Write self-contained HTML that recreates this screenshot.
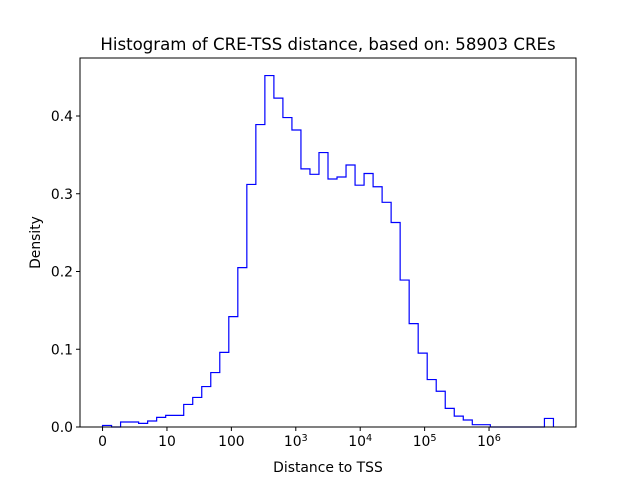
<!DOCTYPE html>
<html><head><meta charset="utf-8"><style>
html,body{margin:0;padding:0;background:#fff}
svg{display:block;font-family:"DejaVu Sans","Liberation Sans",sans-serif}
</style></head><body>
<svg id="chart" width="640" height="480" xmlns="http://www.w3.org/2000/svg">
<rect x="0" y="0" width="640" height="480" fill="#fff"/>
<text x="328" y="50" text-anchor="middle" font-size="16.6">Histogram of CRE-TSS distance, based on: 58903 CREs</text>
<g id="plot"></g>
<rect x="80" y="58" width="496" height="369" fill="none" stroke="#000" stroke-width="1"/>
<text x="328" y="472" text-anchor="middle" font-size="13.9">Distance to TSS</text>
<text x="0" y="0" transform="translate(40,242.5) rotate(-90)" text-anchor="middle" font-size="13.9">Density</text>
</svg>
<script>
const densities = [0.002,0,0.0064,0.0064,0.0047,0.0077,0.0124,0.015,0.015,0.029,0.038,0.052,0.070,0.096,0.142,0.205,0.312,0.389,0.452,0.423,0.398,0.382,0.332,0.325,0.353,0.319,0.3215,0.337,0.311,0.326,0.309,0.289,0.263,0.189,0.133,0.095,0.061,0.046,0.024,0.014,0.009,0.003,0.003,0,0,0,0,0,0,0.011];
const binStart = 0;
const binWidth = 0.14;
const xTickValues = [0,1,2,3,4,5,6];
const xTickLabels = ["0","10","100","10^3","10^4","10^5","10^6"];
const yTickValues = [0,0.1,0.2,0.3,0.4];
const yTickLabels = ["0.0","0.1","0.2","0.3","0.4"];

const L=80,R=576,T=58,B=427;
const xMin=-0.35,xMax=7.35,yMin=0,yMax=0.4746;
const xs=v=>L+(v-xMin)/(xMax-xMin)*(R-L);
const ys=v=>B-(v-yMin)/(yMax-yMin)*(B-T);
const NS="http://www.w3.org/2000/svg";
const g=document.getElementById('plot');
function mk(t,a){const e=document.createElementNS(NS,t);for(const k in a)e.setAttribute(k,a[k]);return e;}

let d="M"+xs(binStart)+","+ys(0);
densities.forEach((v,i)=>{
  const x0=xs(binStart+i*binWidth),x1=xs(binStart+(i+1)*binWidth);
  d+=" L"+x0+","+ys(v)+" L"+x1+","+ys(v);
});
d+=" L"+xs(binStart+densities.length*binWidth)+","+ys(0);
const p=mk('path',{d:d,fill:'none',stroke:'#0000ff','stroke-width':1.2});


g.appendChild(p);

xTickValues.forEach((v,i)=>{
  const x=xs(v);
  const t=mk('line',{x1:x,x2:x,y1:B,y2:B+4,stroke:'#000'});
  
  
  g.appendChild(t);
  const lab=xTickLabels[i];
  const tx=mk('text',{x:x,y:B+19,'text-anchor':'middle','font-size':'13.9'});
  
  
  if(lab.indexOf('^')>=0){
    const [b,e]=lab.split('^');
    const s1=mk('tspan',{});s1.textContent=b;
    const s2=mk('tspan',{dy:'-5','font-size':'9.7'});s2.textContent=e;
    tx.appendChild(s1);tx.appendChild(s2);
  } else tx.textContent=lab;
  g.appendChild(tx);
});
yTickValues.forEach((v,i)=>{
  const y=ys(v);
  const t=mk('line',{x1:L-4,x2:L,y1:y,y2:y,stroke:'#000'});
  
  
  g.appendChild(t);
  const tx=mk('text',{x:L-7,y:y+5,'text-anchor':'end','font-size':'13.9'});
  
  
  tx.textContent=yTickLabels[i];
  g.appendChild(tx);
});
</script>
</body></html>
